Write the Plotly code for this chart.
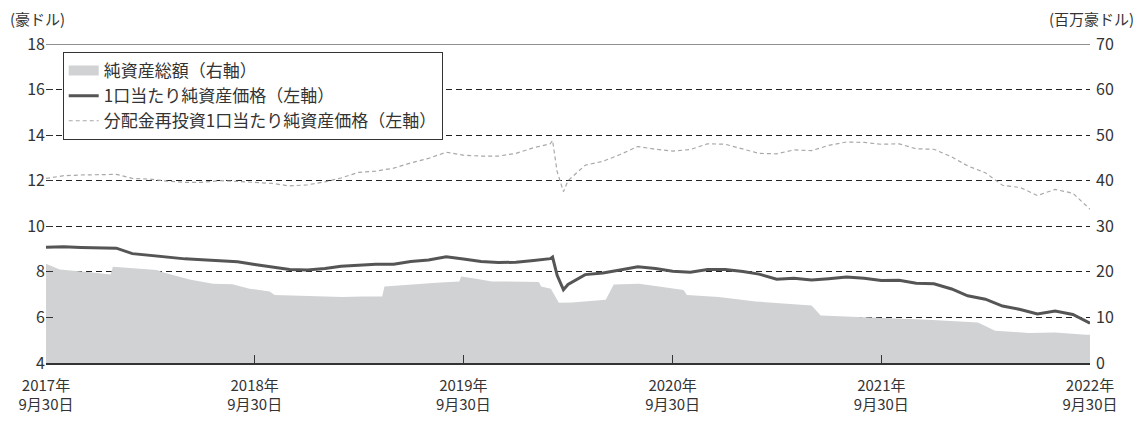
import plotly.graph_objects as go

# ---------------- data ----------------
line_dates = [
    "2017-09-30", "2017-10-31", "2017-11-30", "2017-12-31", "2018-01-31", "2018-02-28",
    "2018-03-31", "2018-04-30", "2018-05-31", "2018-06-30", "2018-07-31", "2018-08-31",
    "2018-09-30", "2018-10-31", "2018-11-30", "2018-12-31", "2019-01-31", "2019-02-28",
    "2019-03-31", "2019-04-30", "2019-05-31", "2019-06-30", "2019-07-31", "2019-08-31",
    "2019-09-30", "2019-10-31", "2019-11-30", "2019-12-31", "2020-01-31", "2020-02-29",
    "2020-03-04", "2020-03-12", "2020-03-23",
    "2020-03-31", "2020-04-30", "2020-05-31", "2020-06-30", "2020-07-31", "2020-08-31",
    "2020-09-30", "2020-10-31", "2020-11-30", "2020-12-31", "2021-01-31", "2021-02-28",
    "2021-03-31", "2021-04-30", "2021-05-31", "2021-06-30", "2021-07-31", "2021-08-31",
    "2021-09-30", "2021-10-31", "2021-11-30", "2021-12-31", "2022-01-31", "2022-02-28",
    "2022-03-31", "2022-04-30", "2022-05-31", "2022-06-30", "2022-07-31", "2022-08-31",
    "2022-09-30",
]
nav_per_unit = [
    9.08, 9.10, 9.07, 9.06, 9.04, 8.80,
    8.72, 8.63, 8.57, 8.53, 8.48, 8.44,
    8.32, 8.22, 8.10, 8.08, 8.15, 8.25,
    8.30, 8.33, 8.33, 8.45, 8.52, 8.66,
    8.56, 8.45, 8.41, 8.42, 8.50, 8.58,
    8.65, 7.85, 7.22,
    7.45, 7.88, 7.95, 8.08, 8.22, 8.15,
    8.03, 7.98, 8.10, 8.10, 8.02, 7.90,
    7.68, 7.72, 7.64, 7.70, 7.77, 7.72,
    7.62, 7.63, 7.50, 7.48, 7.25, 6.95,
    6.80, 6.50, 6.35, 6.15, 6.28, 6.13,
    5.75,
]
nav_reinvested = [
    12.10, 12.22, 12.25, 12.27, 12.28, 12.10,
    12.07, 11.98, 11.93, 11.93, 12.00, 11.97,
    11.93, 11.88, 11.77, 11.82, 11.95, 12.12,
    12.37, 12.42, 12.55, 12.78, 12.98, 13.25,
    13.12, 13.08, 13.08, 13.20, 13.45, 13.62,
    13.77, 12.40, 11.52,
    12.00, 12.68, 12.85, 13.15, 13.50, 13.38,
    13.30, 13.37, 13.62, 13.60, 13.40, 13.20,
    13.18, 13.35, 13.32, 13.55, 13.70, 13.68,
    13.60, 13.62, 13.40, 13.38, 13.05, 12.65,
    12.35, 11.80, 11.70, 11.35, 11.62, 11.45,
    10.75,
]

asset_dates = [
    "2017-09-30", "2017-10-24", "2017-12-16", "2018-01-21", "2018-01-25", "2018-04-12",
    "2018-04-22", "2018-06-08", "2018-07-19", "2018-08-22", "2018-09-21", "2018-10-26",
    "2018-11-04", "2019-01-16", "2019-03-02", "2019-04-06", "2019-05-11", "2019-05-15",
    "2019-06-22", "2019-08-14", "2019-09-23", "2019-09-26", "2019-10-22", "2019-11-19",
    "2020-02-09", "2020-02-13", "2020-03-01", "2020-03-15", "2020-04-07", "2020-06-05",
    "2020-06-19", "2020-08-02", "2020-09-06", "2020-10-06", "2020-10-19", "2020-10-25",
    "2020-12-20", "2021-02-22", "2021-03-17", "2021-05-31", "2021-06-16", "2021-08-16",
    "2021-10-07", "2021-12-21", "2022-03-18", "2022-04-17", "2022-06-14", "2022-07-31",
    "2022-09-23", "2022-09-30",
]
total_net_assets = [
    21.8, 20.5, 19.9, 19.4, 21.1, 20.4,
    19.9, 18.3, 17.4, 17.3, 16.3, 15.7,
    14.9, 14.6, 14.5, 14.6, 14.6, 16.8,
    17.2, 17.6, 17.9, 19.0, 18.5, 17.9,
    17.8, 16.8, 16.3, 13.2, 13.3, 13.9,
    17.2, 17.4, 16.8, 16.3, 16.0, 14.9,
    14.5, 13.5, 13.3, 12.6, 10.4, 10.1,
    9.9, 9.5, 8.9, 7.1, 6.6, 6.7,
    6.2, 6.2,
]

x_tick_dates = ["2017-09-30", "2018-09-30", "2019-09-30", "2020-09-30", "2021-09-30", "2022-09-30"]
x_tick_labels = ["2017年<br>9月30日", "2018年<br>9月30日", "2019年<br>9月30日",
                 "2020年<br>9月30日", "2021年<br>9月30日", "2022年<br>9月30日"]
left_ticks = [4, 6, 8, 10, 12, 14, 16, 18]
right_ticks = [0, 10, 20, 30, 40, 50, 60, 70]

series_names = ["純資産総額（右軸）", "1口当たり純資産価格（左軸）", "分配金再投資1口当たり純資産価格（左軸）"]
left_title = "(豪ドル)"
right_title = "(百万豪ドル)"

FONT = "Noto Sans CJK JP, Noto Sans, sans-serif"
TXT = "#333333"
AREA = "#d1d2d4"

fig = go.Figure()

# area on base axis (right, 0-70) so it draws beneath the lines
fig.add_trace(go.Scatter(
    x=asset_dates, y=total_net_assets, name=series_names[0], showlegend=False,
    mode="lines", line=dict(width=0, color=AREA),
    fill="tozeroy", fillcolor=AREA, yaxis="y", hoverinfo="skip",
))
# legend swatch for the area (block symbol), no visible data in range
fig.add_trace(go.Scatter(
    x=[asset_dates[0]], y=[-100], name=series_names[0],
    mode="lines", line=dict(width=16, color=AREA), yaxis="y", hoverinfo="skip",
))
fig.add_trace(go.Scatter(
    x=line_dates, y=nav_per_unit, name=series_names[1],
    mode="lines", line=dict(width=3, color="#555555"), yaxis="y2",
))
fig.add_trace(go.Scatter(
    x=line_dates, y=nav_reinvested, name=series_names[2],
    mode="lines", line=dict(width=1.2, color="#a8a8a8", dash="4px,3px"), yaxis="y2",
))

# page body has an 8px margin, so the figure is 8px smaller and offset
fig.update_layout(
    width=1134, height=413,
    margin=dict(l=38, r=52, t=36, b=58, autoexpand=False),
    paper_bgcolor="white", plot_bgcolor="white",
    font=dict(family=FONT, size=16, color=TXT),
    showlegend=True,
    legend=dict(
        x=0.016, y=0.975, xanchor="left", yanchor="top",
        bgcolor="white", bordercolor="#333333", borderwidth=1,
        font=dict(family=FONT, size=17, color=TXT),
        tracegroupgap=0, traceorder="normal",
    ),
    xaxis=dict(
        type="date", range=["2017-09-30", "2022-09-30"],
        tickvals=x_tick_dates, ticktext=x_tick_labels,
        ticks="inside", ticklen=8, tickcolor="#333333", tickwidth=1.3,
        showline=True, linecolor="#333333", linewidth=1.5,
        showgrid=False, zeroline=False, ticklabelstandoff=8, automargin=False,
        tickfont=dict(family=FONT, size=15, color=TXT),
    ),
    yaxis=dict(
        side="right", range=[0, 70], tickvals=right_ticks,
        showgrid=True, gridcolor="#222222", gridwidth=1, griddash="6px,4px",
        zeroline=False, showline=False, ticklabelstandoff=5, automargin=False,
        ticks="", tickfont=dict(family=FONT, size=16, color=TXT),
    ),
    yaxis2=dict(
        overlaying="y", side="left", range=[4, 18], tickvals=left_ticks,
        showgrid=False, zeroline=False, showline=False, automargin=False,
        ticks="inside", ticklen=7, tickcolor="#333333", tickwidth=1,
        tickfont=dict(family=FONT, size=16, color=TXT),
    ),
    shapes=[dict(type="line", xref="paper", yref="y", x0=0, x1=1, y0=70, y1=70,
                 line=dict(color="#222222", width=1.2))],
    annotations=[
        dict(text=left_title, xref="paper", yref="paper", x=0, y=1.0, xshift=-38, yshift=26,
             xanchor="left", yanchor="middle", showarrow=False,
             font=dict(family=FONT, size=15, color=TXT)),
        dict(text=right_title, xref="paper", yref="paper", x=1.0, y=1.0, xshift=46, yshift=26,
             xanchor="right", yanchor="middle", showarrow=False,
             font=dict(family=FONT, size=15, color=TXT)),
    ],
)

fig.write_html("out.html")
